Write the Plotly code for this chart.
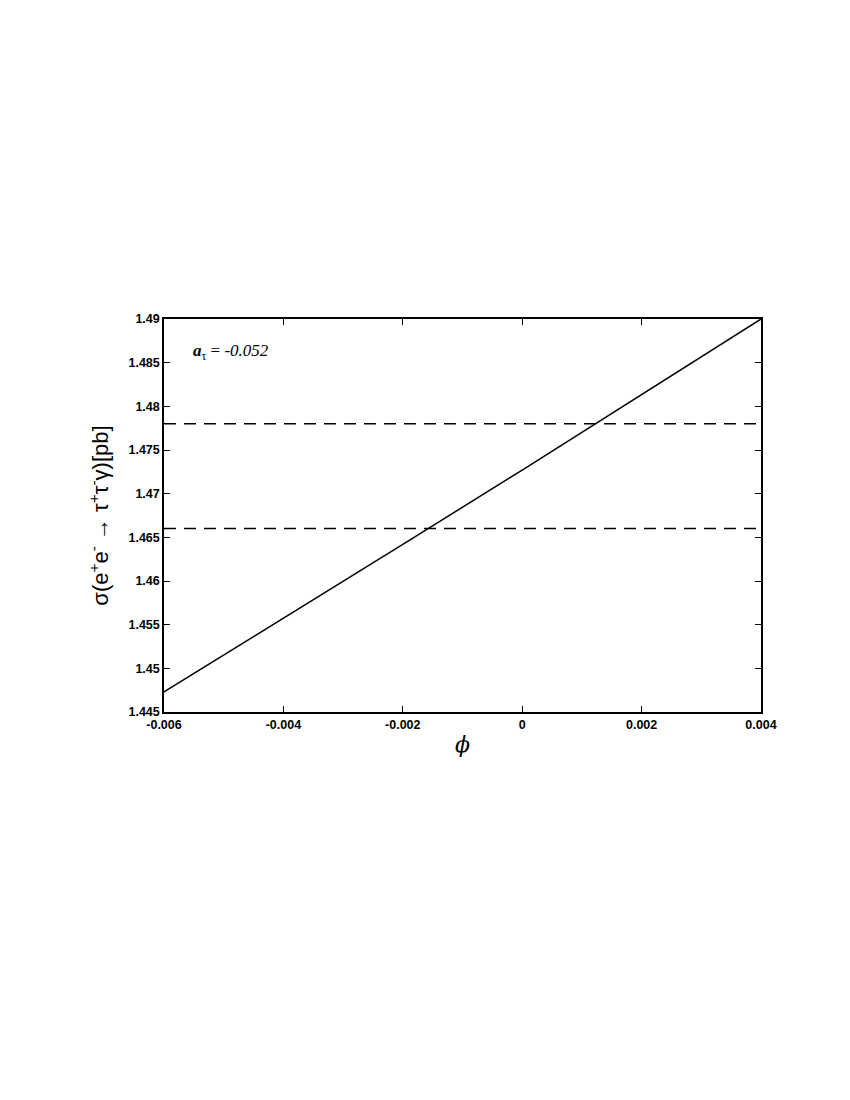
import plotly.graph_objects as go

phi = [-0.006, -0.004, -0.002, 0.0, 0.002, 0.004]
sigma = [1.4473, 1.4557, 1.4642, 1.4727, 1.4813, 1.4900]
bounds = [1.466, 1.478]
x_ticks = [-0.006, -0.004, -0.002, 0, 0.002, 0.004]
x_labels = ["-0.006", "-0.004", "-0.002", "0", "0.002", "0.004"]
y_ticks = [1.445, 1.45, 1.455, 1.46, 1.465, 1.47, 1.475, 1.48, 1.485, 1.49]
y_labels = ["1.445", "1.45", "1.455", "1.46", "1.465", "1.47", "1.475", "1.48", "1.485", "1.49"]

fig = go.Figure()
for b in bounds:
    fig.add_trace(go.Scatter(x=[x_ticks[0], x_ticks[-1]], y=[b, b], mode="lines",
                             line=dict(color="black", width=1.5, dash="12px,8px"),
                             showlegend=False, hoverinfo="skip"))
fig.add_trace(go.Scatter(x=phi, y=sigma, mode="lines",
                         line=dict(color="black", width=1.5), showlegend=False))

tickfont = dict(family="Liberation Sans", size=12.5, color="black", weight="bold")
fig.update_xaxes(range=[-0.006, 0.004], tickvals=x_ticks, ticktext=x_labels,
                 showline=True, linecolor="black", linewidth=1.5, mirror="ticks",
                 ticks="inside", ticklen=6, tickcolor="black", showgrid=False, zeroline=False,
                 tickfont=tickfont,
                 title=dict(text="<i>ϕ</i>", font=dict(family="DejaVu Serif", size=22, color="black"), standoff=6))
fig.update_yaxes(range=[1.445, 1.49], tickvals=y_ticks, ticktext=y_labels,
                 showline=True, linecolor="black", linewidth=1.5, mirror="ticks",
                 ticks="inside", ticklen=6, tickcolor="black", showgrid=False, zeroline=False,
                 tickfont=tickfont,
                 title=dict(text="σ(e<sup>+</sup>e<sup>-</sup> → τ<sup>+</sup>τ<sup>-</sup>γ)[pb]",
                            font=dict(family="Liberation Sans", size=22, color="black"), standoff=14))
fig.add_annotation(x=0.046, y=0.915, xref="paper", yref="paper", xanchor="left", yanchor="middle",
                   text="<b><i>a</i></b><sub>τ</sub> = <i>-0.052</i>", showarrow=False,
                   font=dict(family="Liberation Serif", size=17, color="black"))
fig.update_layout(width=850, height=1100, plot_bgcolor="white", paper_bgcolor="white",
                  margin=dict(l=156, r=97, t=311, b=396))
fig.write_html("out.html")
